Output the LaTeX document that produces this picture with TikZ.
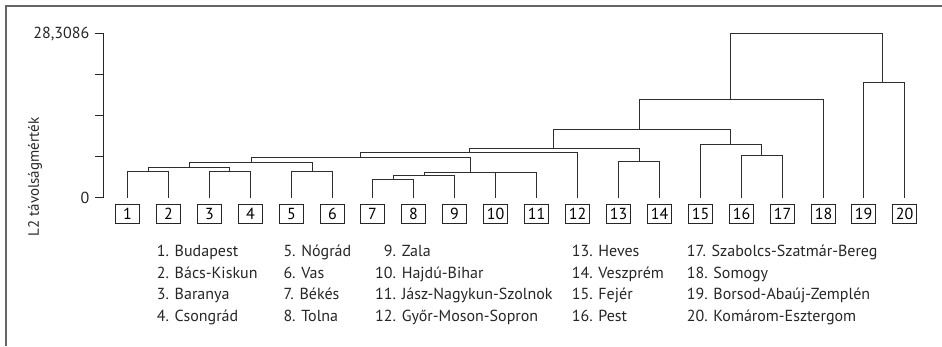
\documentclass[tikz,border=0pt]{standalone}
\usepackage{fontspec}
\setmainfont{PT Sans}
\newcommand\mergeat[5]{%
  \coordinate (#1) at (#4,#5);
  \draw[link] (#2) |- (#1) -| (#3);}
\begin{document}
\begin{tikzpicture}[x=1pt,y=-1pt,
  font=\fontsize{16}{19}\selectfont,
  leaf/.style={draw=black!85, line width=1pt, minimum width=24pt, minimum height=19pt, inner sep=0pt},
  link/.style={draw=black!82, line width=1.3pt},
  lab/.style={anchor=base west, inner sep=0pt, text=black!85},
  frame/.style={draw=black!60, line width=2pt},
  axis/.style={draw=black!85, line width=1.3pt}]
\useasboundingbox (0,0) rectangle (942,346);
\draw[frame] (6,346) -- (6,6) -- (942,6);
% axis
\coordinate (ytop) at (103.5,33.5);
\coordinate (ybot) at (103.5,197.5);
\draw[axis] (ytop) -- (ybot);
\foreach \k/\yy in {0/197.5,1/156.5,2/115.5,3/74.5,4/33.5}{
  \coordinate (tk\k) at (103.5,\yy);
  \coordinate (tl\k) at (95,\yy);
  \draw[axis] (tl\k) -- (tk\k);
}
\node[anchor=east, inner sep=0pt, text=black!85] (ymax) at (89.5,33.5) {28,3086};
\node[anchor=east, inner sep=0pt, text=black!85] (yzero) at (89.5,197.5) {0};
\node[rotate=90, inner sep=0pt, text=black!85, font=\fontsize{15}{18}\selectfont] (ytitle) at (35,177) {L2 távolságmérték};
% leaves
\foreach \i/\xx in {1/127.5,2/168.5,3/209.5,4/250.5,5/291.5,6/332.5,7/372.5,8/413.5,9/454.5,10/495.5,
  11/536.5,12/577.5,13/618.5,14/659.5,15/700.5,16/741.5,17/782.5,18/823.5,19/863.5,20/904.5}{
  \node[leaf] (l\i) at (\xx,214) {\i};
  \coordinate (t\i) at (\xx,197.5);
}
% merges
\mergeat{c12}{t1}{t2}{148.5}{171.5}
\mergeat{c34}{t3}{t4}{229.5}{171.5}
\mergeat{c14}{c12}{c34}{189.5}{167.5}
\mergeat{c56}{t5}{t6}{312.5}{171.5}
\mergeat{c16}{c14}{c56}{251.5}{162.5}
\mergeat{c78}{t7}{t8}{393.5}{179.5}
\mergeat{c79}{c78}{t9}{424.5}{175.5}
\mergeat{c1011}{t10}{t11}{516.5}{172.5}
\mergeat{c711}{c79}{c1011}{470.5}{172.5}
\mergeat{c111}{c16}{c711}{360.5}{157.5}
\mergeat{c112}{c111}{t12}{469.5}{152.5}
\mergeat{c1314}{t13}{t14}{639.5}{161.5}
\mergeat{c114}{c112}{c1314}{553.5}{148.5}
\mergeat{c1617}{t16}{t17}{761.5}{155.5}
\mergeat{c1517}{t15}{c1617}{730.5}{144.5}
\mergeat{c117}{c114}{c1517}{639.5}{129.5}
\mergeat{c118}{c117}{t18}{730.5}{99.5}
\mergeat{c1920}{t19}{t20}{882.5}{82.5}
\mergeat{root}{c118}{c1920}{806.5}{33.5}
% legend
\node[lab] (n1) at (156.7,256.5) {1. Budapest};
\node[lab] (n2) at (156.7,278.2) {2. Bács-Kiskun};
\node[lab] (n3) at (156.7,299.9) {3. Baranya};
\node[lab] (n4) at (156.7,321.6) {4. Csongrád};
\node[lab] (n5) at (283.3,256.5) {5. Nógrád};
\node[lab] (n6) at (283.3,278.2) {6. Vas};
\node[lab] (n7) at (283.3,299.9) {7. Békés};
\node[lab] (n8) at (283.3,321.6) {8. Tolna};
\node[lab] (n9) at (375,256.5) {\hphantom{1}9. Zala};
\node[lab] (n10) at (375,278.2) {10. Hajdú-Bihar};
\node[lab] (n11) at (375,299.9) {11. Jász-Nagykun-Szolnok};
\node[lab] (n12) at (375,321.6) {12. Győr-Moson-Sopron};
\node[lab] (n13) at (571.7,256.5) {13. Heves};
\node[lab] (n14) at (571.7,278.2) {14. Veszprém};
\node[lab] (n15) at (571.7,299.9) {15. Fejér};
\node[lab] (n16) at (571.7,321.6) {16. Pest};
\node[lab] (n17) at (686.7,256.5) {17. Szabolcs-Szatmár-Bereg};
\node[lab] (n18) at (686.7,278.2) {18. Somogy};
\node[lab] (n19) at (686.7,299.9) {19. Borsod-Abaúj-Zemplén};
\node[lab] (n20) at (686.7,321.6) {20. Komárom-Esztergom};
\end{tikzpicture}
\end{document}
